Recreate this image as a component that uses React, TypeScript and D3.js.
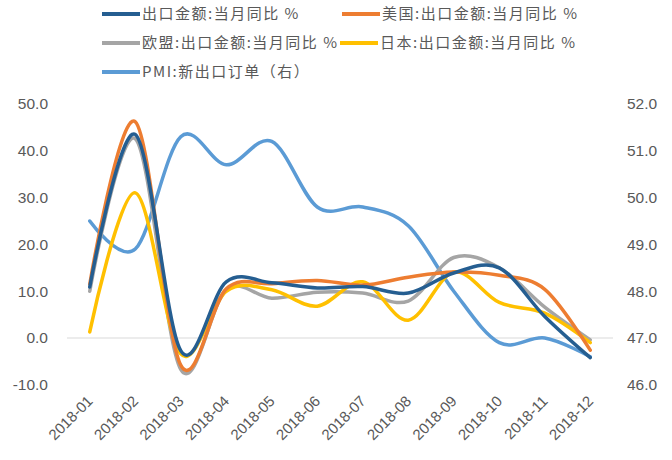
import React from "react";
import * as d3 from "d3";

const months = ["2018-01","2018-02","2018-03","2018-04","2018-05","2018-06","2018-07","2018-08","2018-09","2018-10","2018-11","2018-12"];
const exportTotal = [10.9, 43.5, -2.7, 12.0, 11.8, 10.7, 11.0, 9.6, 13.9, 15.0, 4.6, -4.2];
const exportUS = [11.5, 46.2, -5.8, 10.5, 11.6, 12.3, 11.3, 13.0, 14.1, 13.4, 10.4, -2.6];
const exportEU = [10.0, 42.6, -6.7, 10.3, 8.5, 9.8, 9.6, 7.9, 17.2, 15.0, 6.6, -0.4];
const exportJP = [1.3, 31.0, -3.4, 10.0, 10.3, 6.8, 12.0, 3.8, 14.1, 7.6, 5.3, -1.0];
const pmiExport = [49.5, 48.9, 51.3, 50.7, 51.2, 49.8, 49.8, 49.4, 48.0, 46.9, 47.0, 46.6];
const leftTicks = [-10, 0, 10, 20, 30, 40, 50];
const rightTicks = [46, 47, 48, 49, 50, 51, 52];
const legendLabels = ["出口金额:当月同比 %", "美国:出口金额:当月同比 %", "欧盟:出口金额:当月同比 %", "日本:出口金额:当月同比 %", "PMI:新出口订单（右）"];
const colors = ["#255E91", "#ED7D31", "#A5A5A5", "#FFC000", "#5B9BD5"];

export default function App() {
  const W = 672, H = 460;
  const x = d3.scaleBand<string>().domain(months).range([67, 613]);
  const cx = (m: string) => (x(m) as number) + x.bandwidth() / 2;
  const yL = d3.scaleLinear().domain([-10, 50]).range([384.8, 104]);
  const yR = d3.scaleLinear().domain([46, 52]).range([384.8, 104]);
  const curve = d3.curveCardinal.tension(0);
  const lineL = d3.line<number>().x((_, i) => cx(months[i])).y((d) => yL(d)).curve(curve);
  const lineR = d3.line<number>().x((_, i) => cx(months[i])).y((d) => yR(d)).curve(curve);
  const leftSeries = [exportTotal, exportUS, exportEU, exportJP];
  const order = [4, 2, 3, 1, 0];
  const legendPos = [
    { x: 102, y: 14 }, { x: 342, y: 14 },
    { x: 102, y: 43 }, { x: 340, y: 43 },
    { x: 102, y: 72 },
  ];
  const txt = "#595959";
  return (
    <svg width={W} height={H} style={{ position: "absolute", left: 0, top: 0, background: "#fff" }}>
      <rect width={W} height={H} fill="#fff" />
      <line x1={67} x2={613} y1={yL(0)} y2={yL(0)} stroke="#D9D9D9" strokeWidth={1} />
      {leftTicks.map((t) => (
        <text key={"l" + t} x={48} y={yL(t)} dy="0.35em" textAnchor="end" fontFamily="Liberation Sans, Arial, sans-serif" fontSize={15.5} fill={txt}>
          {t.toFixed(1)}
        </text>
      ))}
      {rightTicks.map((t) => (
        <text key={"r" + t} x={627} y={yR(t)} dy="0.35em" textAnchor="start" fontFamily="Liberation Sans, Arial, sans-serif" fontSize={15.5} fill={txt}>
          {t.toFixed(1)}
        </text>
      ))}
      {months.map((m) => (
        <text key={m} transform={`translate(${cx(m) + 4},${402}) rotate(-45)`} textAnchor="end" fontFamily="Liberation Sans, Arial, sans-serif" fontSize={15} fill={txt}>
          {m}
        </text>
      ))}
      {order.map((k) => (
        <path key={"s" + k} d={(k === 4 ? lineR(pmiExport) : lineL(leftSeries[k])) as string} fill="none" stroke={colors[k]} strokeWidth={3.5} strokeLinejoin="round" strokeLinecap="round" />
      ))}
      {legendLabels.map((lab, i) => (
        <g key={lab} transform={`translate(${legendPos[i].x},${legendPos[i].y})`}>
          <line x1={0} x2={38} y1={0} y2={0} stroke={colors[i]} strokeWidth={4} />
          <text x={40} y={0} dy="0.35em" fontFamily="Noto Sans CJK SC, sans-serif" fontSize={15} letterSpacing={1.5} fill={txt}>
            {lab}
          </text>
        </g>
      ))}
    </svg>
  );
}
